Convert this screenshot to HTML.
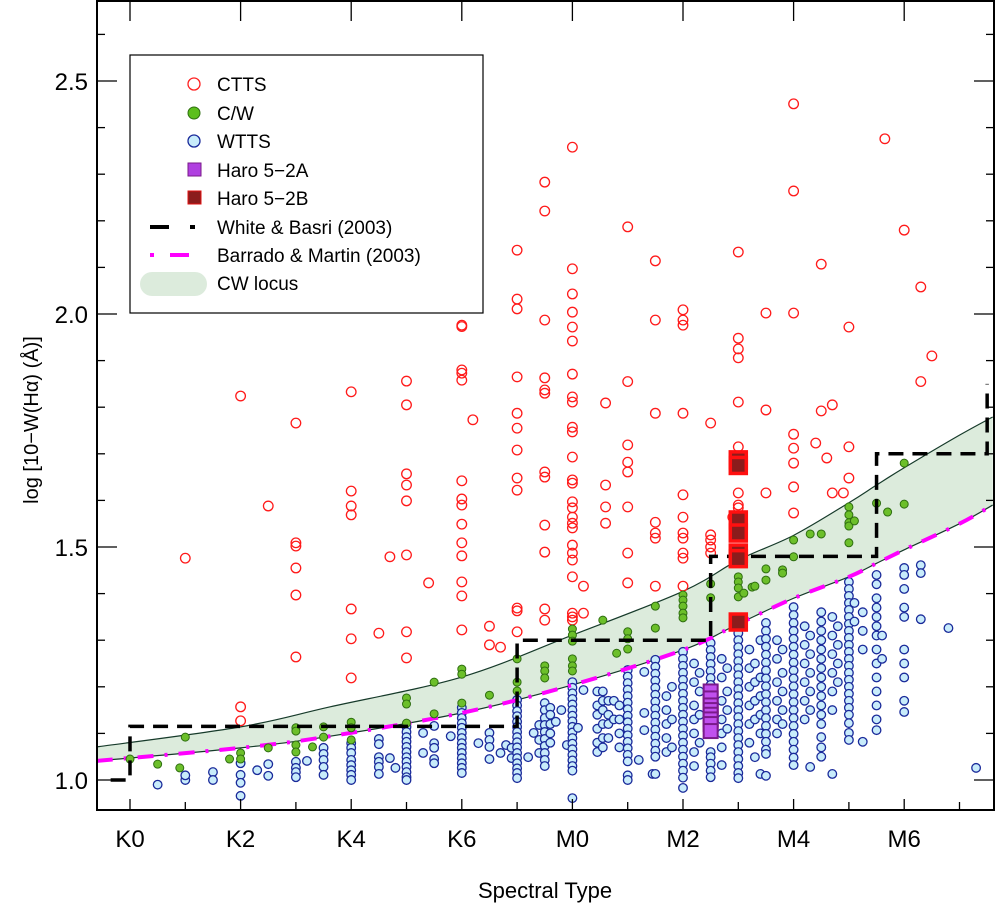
<!DOCTYPE html>
<html><head><meta charset="utf-8"><style>
html,body{margin:0;padding:0;background:#fff;}
svg{display:block;font-family:"Liberation Sans",sans-serif;}
</style></head><body>
<svg id="chart" width="1000" height="913" viewBox="0 0 1000 913" xmlns="http://www.w3.org/2000/svg">
<defs><clipPath id="clip"><rect x="97" y="1" width="897" height="809"/></clipPath></defs>
<g id="plot" clip-path="url(#clip)"></g>
<g id="axes"></g>
<text x="545" y="898" font-size="22" text-anchor="middle">Spectral Type</text>
<text transform="translate(38,420) rotate(-90)" font-size="20" text-anchor="middle">log [10−W(Hα) (Å)]</text>
<g id="legend">
<rect x="130" y="55" width="353" height="258" fill="#fff" stroke="#000" stroke-width="1.2"/>
<g><circle cx="194" cy="84" r="6" fill="none" stroke="#ff2020" stroke-width="1.3"/><text x="217" y="91" font-size="19">CTTS</text></g>
<g><circle cx="194" cy="113" r="6" fill="#5cbf1c" stroke="#2e6e10" stroke-width="1"/><text x="217" y="120" font-size="19">C/W</text></g>
<g><circle cx="194" cy="141" r="6" fill="#c8ecfb" stroke="#1a2a9a" stroke-width="1.3"/><text x="217" y="148" font-size="19">WTTS</text></g>
<g><rect x="188" y="163" width="13" height="13" fill="#b040e0" stroke="#7a1a8a" stroke-width="1"/><text x="217" y="177" font-size="19">Haro 5−2A</text></g>
<g><rect x="188" y="191" width="13" height="13" fill="#8b1c1c" stroke="#e01010" stroke-width="1"/><text x="217" y="205" font-size="19">Haro 5−2B</text></g>
<g><line x1="150" y1="227" x2="169" y2="227" stroke="#000" stroke-width="4"/><line x1="190" y1="227" x2="195" y2="227" stroke="#000" stroke-width="4"/><text x="217" y="234" font-size="19">White &amp; Basri (2003)</text></g>
<g><line x1="150" y1="255" x2="154" y2="255" stroke="#ff00ff" stroke-width="4"/><line x1="170" y1="255" x2="189" y2="255" stroke="#ff00ff" stroke-width="4"/><text x="217" y="262" font-size="19">Barrado &amp; Martin (2003)</text></g>
<g><rect x="140" y="272" width="67" height="24" rx="12" fill="#dcebdc"/><text x="217" y="290" font-size="19">CW locus</text></g>
</g>
</svg>
<script>
// ---- data ----
const xCats = ['K0','K2','K4','K6','M0','M2','M4','M6'];
const xCatIdx = [0,2,4,6,8,10,12,14];
const yTicks = [1.0,1.5,2.0,2.5];
const yTickLabels = ['1.0','1.5','2.0','2.5'];
const locusIdx = [-0.6,2,3.62,6,8,10,11,12,13,13.5,14,15,15.6];
const locusUpper = [1.071,1.114,1.157,1.221,1.311,1.405,1.472,1.525,1.595,1.633,1.67,1.74,1.779];
const locusLower = [1.041,1.069,1.094,1.144,1.204,1.279,1.335,1.39,1.436,1.465,1.494,1.55,1.59];
const wbIdx = [-0.35,0,0,7,7,10.5,10.5,13.5,13.5,15.5,15.5];
const wbVal = [1.0,1.0,1.115,1.115,1.30,1.30,1.48,1.48,1.70,1.70,1.85];
const cttsData = [[1,1.476],[2,1.824],[2,1.157],[2,1.127],[3,1.766],[3,1.509],[3,1.502],[3,1.455],[3,1.397],[3,1.264],[2.5,1.588],
[4,1.833],[4,1.62],[4,1.588],[4,1.569],[4,1.367],[4,1.303],[4,1.219],[4.5,1.315],[4.7,1.479],
[5,1.856],[5,1.805],[5,1.657],[5,1.633],[5,1.599],[5,1.483],[5,1.318],[5,1.262],[5.4,1.423],
[6,1.976],[6,1.973],[6,1.88],[6,1.873],[6,1.858],[6,1.642],[6,1.603],[6,1.59],[6,1.549],[6,1.509],[6,1.481],[6,1.425],[6,1.395],[6,1.322],[6.2,1.773],[6.5,1.33],[6.5,1.29],[6.7,1.285],
[7,2.137],[7,2.032],[7,2.011],[7,1.865],[7,1.787],[7,1.755],[7,1.708],[7,1.648],[7,1.622],[7,1.369],[7,1.363],[7,1.318],
[7.5,2.283],[7.5,2.221],[7.5,1.987],[7.5,1.863],[7.5,1.837],[7.5,1.830],[7.5,1.661],[7.5,1.650],[7.5,1.547],[7.5,1.489],[7.5,1.367],[7.5,1.343],
[8,2.358],[8,2.097],[8,2.043],[8,2.004],[8,1.972],[8,1.942],[8,1.871],[8,1.822],[8,1.811],[8,1.757],[8,1.747],[8,1.693],[8,1.644],[8,1.637],[8,1.597],[8,1.584],[8,1.564],[8,1.551],[8,1.541],[8,1.504],[8,1.487],[8,1.472],[8,1.436],[8,1.358],[8,1.350],[8,1.343],
[8.2,1.416],[8.2,1.358],[8.6,1.809],[8.6,1.633],[8.6,1.586],[8.6,1.551],
[9,2.187],[9,1.855],[9,1.719],[9,1.682],[9,1.661],[9,1.586],[9,1.487],[9,1.423],
[9.5,2.114],[9.5,1.987],[9.5,1.787],[9.5,1.553],[9.5,1.530],[9.5,1.519],[9.5,1.416],
[10,2.009],[10,1.987],[10,1.976],[10,1.787],[10,1.612],[10,1.564],[10,1.530],[10,1.519],[10,1.487],[10,1.476],[10,1.416],
[10.5,1.766],[10.5,1.526],[10.5,1.515],[10.5,1.500],[10.5,1.487],[10.9,1.564],
[11,2.133],[11,1.948],[11,1.925],[11,1.906],[11,1.811],[11,1.715],[11,1.616],[11,1.590],[11,1.584],
[11.5,2.002],[11.5,1.794],[11.5,1.616],
[12,2.451],[12,2.264],[12,2.002],[12,1.742],[12,1.712],[12,1.680],[12,1.629],[12,1.573],
[12.4,1.723],[12.5,2.107],[12.5,1.792],[12.6,1.691],[12.7,1.805],[12.7,1.616],[12.9,1.616],
[13,1.972],[13,1.715],[13,1.648],[13.65,2.376],[14,2.180],[14.3,2.058],[14.3,1.855],[14.5,1.910]];
const cwData = [[0,1.045],[0.5,1.034],[0.9,1.026],[1,1.092],[1.8,1.045],[2,1.058],[2,1.045],[2.5,1.069],[3,1.112],[3,1.105],[3,1.075],[3,1.060],[3.3,1.071],[3.5,1.114],[3.5,1.092],
[4,1.124],[4,1.112],[4,1.086],[5,1.176],[5,1.163],[5,1.122],[5.5,1.210],[5.5,1.142],[6,1.238],[6,1.227],[6,1.165],[6.5,1.182],[7,1.260],[7,1.210],[7,1.191],[7.5,1.245],[7.5,1.234],[7.5,1.219],
[8,1.324],[8,1.311],[8,1.298],[8,1.260],[8,1.245],[8,1.234],[8.55,1.343],[9,1.318],[9,1.303],[9,1.281],[8.8,1.272],[9.5,1.373],[9.5,1.326],
[10,1.397],[10,1.386],[10,1.373],[10,1.358],[10,1.348],[10.5,1.421],[10.5,1.391],[11,1.436],[11,1.425],[11,1.412],[11,1.393],[11.1,1.401],[11.25,1.414],[11.3,1.416],[11.5,1.453],[11.5,1.429],[11.8,1.451],[11.8,1.444],
[12,1.515],[12,1.479],[12.3,1.528],[12.5,1.528],[13,1.586],[13,1.569],[13,1.552],[13,1.545],[13,1.509],[13.1,1.556],[13.5,1.594],[13.7,1.575],[14,1.592],[14,1.680]];
const wttsCols = [
[0.5,[0.99]],[1,[1.0,1.01]],[1.5,[1.017,1.0]],[2,[1.036,1.011,0.994,0.966]],[2.3,[1.021]],[2.5,[1.034,1.009]],
[3,[1.039,1.026,1.017,1.006]],[3.2,[1.041]],[3.5,[1.069,1.056,1.043,1.028,1.011]],
[4,[1.079,1.069,1.058,1.043,1.032,1.021,1.011,1.0]],[4.5,[1.088,1.077,1.049,1.039,1.028,1.013]],[4.7,[1.047]],[4.8,[1.026]],
[5,[1.114,1.103,1.092,1.082,1.071,1.060,1.049,1.039,1.028,1.017,1.006,1.0]],[5.3,[1.101,1.058]],[5.5,[1.116,1.079,1.069,1.045,1.036]],[5.8,[1.094]],
[6,[1.155,1.144,1.133,1.122,1.112,1.101,1.090,1.079,1.069,1.058,1.047,1.036,1.026,1.015]],
[6.3,[1.079]],[6.5,[1.101,1.086,1.071,1.045]],[6.7,[1.058]],[6.8,[1.075]],[6.9,[1.069,1.047]],
[7,[1.172,1.160,1.148,1.137,1.125,1.114,1.103,1.092,1.081,1.070,1.058,1.047,1.036,1.025,1.015,1.004]],
[7.2,[1.049]],[7.3,[1.101]],[7.4,[1.118,1.086,1.058]],[7.5,[1.165,1.150,1.133,1.118,1.103,1.088,1.073,1.058,1.043,1.030]],
[7.6,[1.155,1.14,1.12,1.10,1.08]],[7.7,[1.125]],[7.8,[1.150]],[7.9,[1.075]],
[8,[1.21,1.198,1.186,1.174,1.162,1.150,1.138,1.126,1.114,1.102,1.090,1.078,1.066,1.054,1.042,1.030,1.02,0.961]],
[8.1,[1.112]],[8.2,[1.193]],[8.45,[1.19,1.16,1.14,1.11,1.08,1.06]],[8.55,[1.19,1.17,1.15,1.12,1.09,1.07]],
[8.65,[1.17,1.14,1.12,1.09]],[8.75,[1.17,1.13]],[8.85,[1.16,1.13,1.10,1.07]],
[9,[1.236,1.222,1.208,1.194,1.180,1.166,1.152,1.138,1.124,1.110,1.096,1.082,1.068,1.054,1.040,1.010,1.0]],
[9.2,[1.043]],[9.3,[1.232,1.144,1.107]],[9.45,[1.013]],
[9.5,[1.258,1.243,1.228,1.213,1.198,1.183,1.168,1.153,1.138,1.123,1.108,1.093,1.078,1.063,1.05,1.013]],
[9.7,[1.18,1.15,1.12,1.09,1.06]],[9.8,[1.20,1.13,1.07]],
[10,[1.275,1.26,1.245,1.23,1.215,1.20,1.185,1.17,1.155,1.14,1.125,1.11,1.095,1.08,1.065,1.05,1.035,1.02,1.005,0.983]],
[10.2,[1.25,1.21,1.16,1.13,1.10,1.06,1.03]],[10.3,[1.23,1.19,1.14,1.08]],
[10.5,[1.294,1.279,1.264,1.249,1.234,1.219,1.204,1.06,1.049,1.035,1.02,1.006]],
[10.7,[1.26,1.22,1.17,1.13,1.1,1.07,1.032]],[10.8,[1.24,1.19,1.15,1.11]],
[11,[1.315,1.30,1.285,1.27,1.255,1.24,1.225,1.21,1.195,1.18,1.165,1.15,1.135,1.12,1.105,1.09,1.075,1.06,1.045,1.03,1.015,1.004]],
[11.2,[1.28,1.24,1.20,1.16,1.12,1.08]],[11.3,[1.25,1.21,1.17,1.13,1.049]],[11.4,[1.30,1.22,1.18,1.14,1.10,1.013]],
[11.5,[1.337,1.32,1.303,1.286,1.269,1.252,1.235,1.218,1.201,1.184,1.167,1.15,1.133,1.116,1.099,1.082,1.065,1.056,1.009]],
[11.7,[1.30,1.26,1.21,1.17,1.13,1.10]],[11.8,[1.28,1.23,1.19,1.15,1.12]],
[12,[1.371,1.354,1.337,1.32,1.303,1.286,1.269,1.252,1.235,1.218,1.201,1.184,1.167,1.15,1.133,1.116,1.099,1.082,1.065,1.048,1.032]],
[12.2,[1.33,1.29,1.25,1.21,1.17,1.13]],[12.3,[1.31,1.27,1.23,1.19,1.15,1.028]],
[12.5,[1.36,1.34,1.32,1.30,1.28,1.26,1.24,1.22,1.20,1.18,1.16,1.14,1.12,1.092,1.07,1.05]],
[12.7,[1.35,1.31,1.27,1.23,1.19,1.15,1.013]],[12.8,[1.33,1.29,1.25,1.21]],
[13,[1.425,1.41,1.395,1.38,1.365,1.35,1.335,1.32,1.305,1.29,1.275,1.26,1.245,1.23,1.215,1.20,1.185,1.17,1.155,1.14,1.122,1.101,1.086]],
[13.1,[1.38,1.34]],[13.25,[1.36,1.32,1.28,1.082]],
[13.5,[1.44,1.42,1.39,1.37,1.35,1.33,1.31,1.28,1.25,1.22,1.19,1.16,1.13,1.107]],[13.6,[1.31,1.26]],
[14,[1.455,1.44,1.41,1.37,1.35,1.28,1.25,1.22,1.17,1.146]],[14.3,[1.461,1.444,1.345]],[14.8,[1.326]],[15.3,[1.026]]];
const haroAType = 10.5;
const haroAVals = [1.19,1.175,1.16,1.15,1.14,1.13,1.12,1.105];
const haroBType = 11;
const haroBVals = [1.687,1.675,1.558,1.53,1.487,1.475,1.339];

// ---- scales ----
const X0 = 130, XS = 55.3, Y0 = 780, YS = 466;
function sx(i){ return X0 + XS*i; }
function sy(v){ return Y0 - (v-1)*YS; }
const NS = 'http://www.w3.org/2000/svg';
function mk(tag, attrs, parent){ const e = document.createElementNS(NS, tag); for (const k in attrs) e.setAttribute(k, attrs[k]); parent.appendChild(e); return e; }
const plot = document.getElementById('plot');
const axes = document.getElementById('axes');

function smooth(xs, ys){
  const p = xs.map((x,k)=>[sx(x), sy(ys[k])]);
  let d = 'M'+p[0][0]+','+p[0][1];
  for (let k=0;k<p.length-1;k++){
    const p0=p[Math.max(0,k-1)], p1=p[k], p2=p[k+1], p3=p[Math.min(p.length-1,k+2)];
    const c1=[p1[0]+(p2[0]-p0[0])/6, p1[1]+(p2[1]-p0[1])/6];
    const c2=[p2[0]-(p3[0]-p1[0])/6, p2[1]-(p3[1]-p1[1])/6];
    d += ' C'+c1[0]+','+c1[1]+' '+c2[0]+','+c2[1]+' '+p2[0]+','+p2[1];
  }
  return d;
}
const up = smooth(locusIdx, locusUpper);
const lowRev = smooth(locusIdx.slice().reverse(), locusLower.slice().reverse());
const band = mk('path', {d: up + ' L' + lowRev.slice(1) + ' Z', fill:'#dcebdc', stroke:'none'}, plot);


const upl = mk('path', {d: up, fill:'none', stroke:'#163a2a', 'stroke-width':1.2}, plot);


const lowD = smooth(locusIdx, locusLower);
const lol = mk('path', {d: lowD, fill:'none', stroke:'#163a2a', 'stroke-width':1.2}, plot);



const gW = mk('g', {}, plot);


wttsCols.forEach(col => col[1].forEach(v => {
  const c = mk('circle', {cx:sx(col[0]), cy:sy(v), r:4.3, fill:'#c8ecfb', stroke:'#1a2a9a', 'stroke-width':1.3}, gW);
  
  
}));
const gC = mk('g', {}, plot);


cttsData.forEach(p => {
  const c = mk('circle', {cx:sx(p[0]), cy:sy(p[1]), r:4.8, fill:'none', stroke:'#ff1a1a', 'stroke-width':1.3}, gC);
  
  
});

const bm = mk('path', {d: lowD, fill:'none', stroke:'#ff00ff', 'stroke-width':4, 'stroke-dasharray':'16 11 3 11'}, plot);



const gG = mk('g', {}, plot);


cwData.forEach(p => {
  const c = mk('circle', {cx:sx(p[0]), cy:sy(p[1]), r:4, fill:'#6cbf2a', stroke:'#2e6e10', 'stroke-width':1}, gG);
  
  
});

const wbPts = wbIdx.map((x,k)=>sx(x)+','+sy(wbVal[k])).join(' ');
const wb = mk('polyline', {points: wbPts, fill:'none', stroke:'#000', 'stroke-width':3.5, 'stroke-dasharray':'15 9'}, plot);



haroAVals.forEach(v => {
  const r = mk('rect', {x:sx(haroAType)-7, y:sy(v)-7, width:14, height:14, fill:'#c050ee', stroke:'#7a1a8a', 'stroke-width':2}, plot);
  
  
});
haroBVals.forEach(v => {
  const r = mk('rect', {x:sx(haroBType)-8, y:sy(v)-8, width:16, height:16, fill:'#8b1c1c', stroke:'#ff1010', 'stroke-width':3.5}, plot);
  
  
});

const fr = mk('rect', {x:97, y:1, width:897, height:809, fill:'none', stroke:'#000', 'stroke-width':2}, axes);


for (let i=0; i<=15; i++){
  const major = i%2===0;
  mk('line', {x1:sx(i), x2:sx(i), y1:810, y2:810-(major?11:8), stroke:'#000', 'stroke-width':1.3}, axes);
  if (major) mk('line', {x1:sx(i), x2:sx(i), y1:1, y2:21, stroke:'#000', 'stroke-width':1.3}, axes);
}
xCats.forEach((c,k) => {
  const t = mk('text', {x:sx(xCatIdx[k]), y:847, 'font-size':24, 'text-anchor':'middle'}, axes);
  t.textContent = c;
  
  
});
for (let k=0;k<=18;k++){
  const v = 0.9 + k*0.1;
  const yy = sy(v);
  if (yy < 2 || yy > 809) continue;
  const major = Math.abs((v*10)%5) < 0.01 || Math.abs((v*10)%5-5) < 0.01;
  const len = major ? 20 : 8;
  mk('line', {x1:97, x2:97+len, y1:yy, y2:yy, stroke:'#000', 'stroke-width':1.3}, axes);
  mk('line', {x1:994-len, x2:994, y1:yy, y2:yy, stroke:'#000', 'stroke-width':1.3}, axes);
}
yTicks.forEach((v,k) => {
  const t = mk('text', {x:88, y:sy(v)+9, 'font-size':24, 'text-anchor':'end'}, axes);
  t.textContent = yTickLabels[k];
  
  
});
</script>
</body></html>
